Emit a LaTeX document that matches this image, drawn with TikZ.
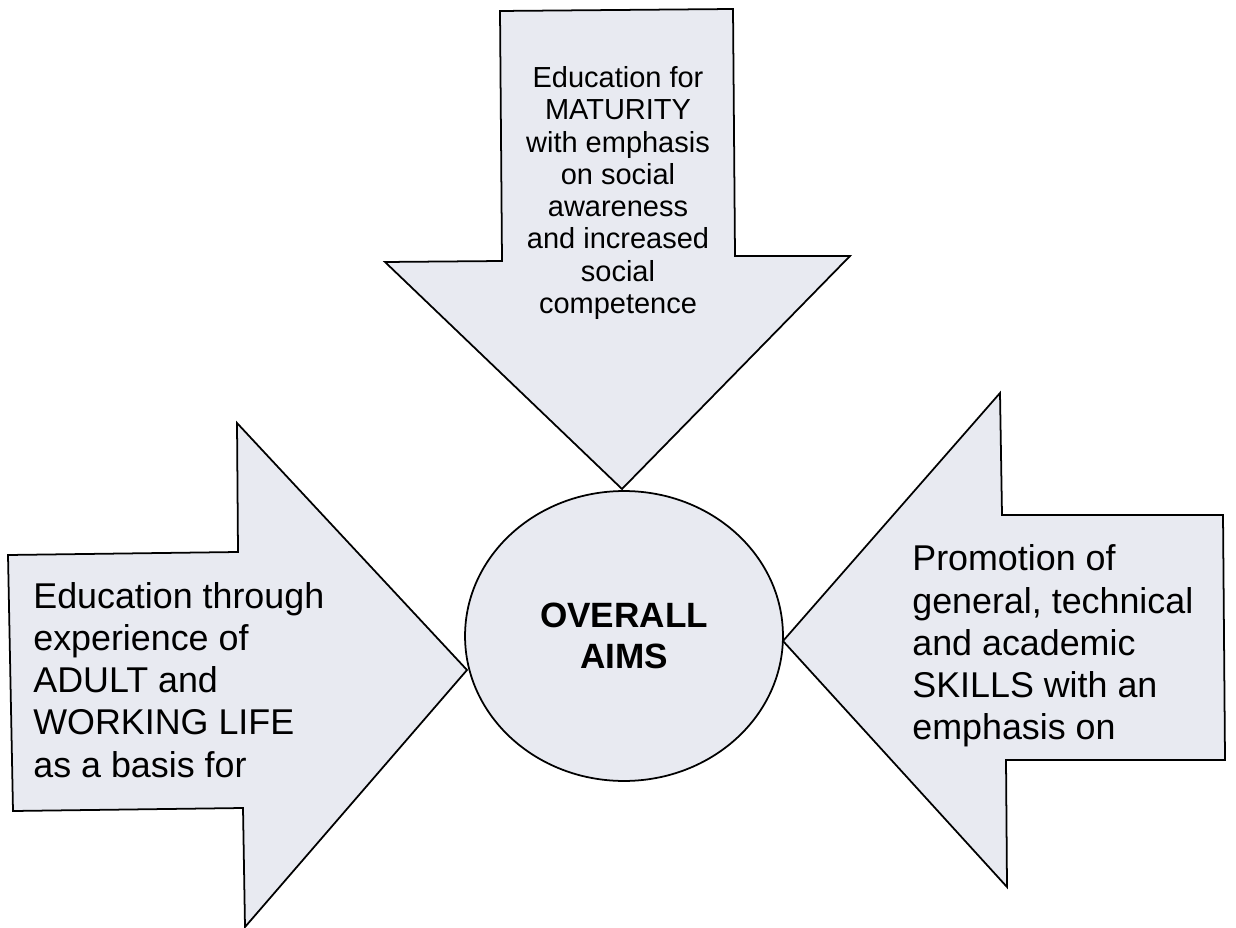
\documentclass[tikz,border=0pt]{standalone}
\usepackage{fontspec}
\setmainfont{Liberation Sans}
\usetikzlibrary{positioning,shapes.geometric}
\definecolor{scanfill}{RGB}{232,234,241}

\begin{document}
\begin{tikzpicture}[
  x=0.02cm, y=-0.02cm,
  every node/.style={inner sep=0pt},
  arrowbody/.style={draw=black, fill=scanfill, line width=1pt, line join=miter},
  hub/.style={ellipse, draw=black, fill=scanfill, line width=1pt,
              minimum width=6.36cm, minimum height=5.8cm, align=center,
              font=\fontsize{20}{23.5}\selectfont\bfseries},
  smalltext/.style={align=center, font=\fontsize{16.5}{18.4}\selectfont},
  bigtext/.style={align=left, anchor=west, font=\fontsize{20.4}{24}\selectfont}
]
  \useasboundingbox[fill=white] (0,0) rectangle (1236,928);

  % the three arrows
  \draw[arrowbody] (500,11) -- (733,9) -- (735,256) -- (850,256) -- (622,489)
    -- (385,262) -- (502,261) -- cycle;
  \draw[arrowbody] (8,555) -- (238,552) -- (237,423) -- (467,670) -- (245,927)
    -- (243,808) -- (13,811) -- cycle;
  \draw[arrowbody] (1223,515) -- (1002,515) -- (1000,393) -- (783,641)
    -- (1007,887) -- (1006,760) -- (1225,760) -- cycle;

  % centre
  \node[hub] (aims) at (624,636) {OVERALL\\AIMS};

  % texts
  \node[smalltext] (maturity) at (618,193) {Education for\\MATURITY\\with emphasis\\on social\\awareness\\and increased\\social\\competence};
  \node[bigtext] (adult) at (33,680) {Education through\\experience of\\ADULT and\\WORKING LIFE\\as a basis for};
  \node[bigtext] (skills) at (912,646) {Promotion of\\general, technical\\and academic\\SKILLS with an\\emphasis on};
\end{tikzpicture}
\end{document}
